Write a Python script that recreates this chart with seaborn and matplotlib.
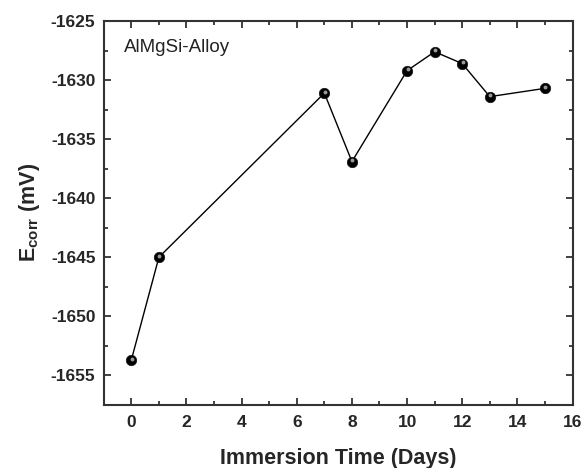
import matplotlib
matplotlib.use("Agg")
import matplotlib.pyplot as plt
import matplotlib.transforms as mtransforms
from matplotlib.ticker import MultipleLocator
import numpy as np
import pandas as pd
import seaborn as sns

# Corrosion potential of the AlMgSi alloy over immersion time
days = [0, 1, 7, 8, 10, 11, 12, 13, 15]
ecorr_mv = [-1653.7, -1645.0, -1631.1, -1636.9, -1629.2, -1627.6, -1628.6, -1631.4, -1630.7]

df = pd.DataFrame({"days": days, "ecorr": ecorr_mv})

sns.set_theme(style="ticks")
plt.rcParams["font.family"] = ["Liberation Sans", "DejaVu Sans"]
plt.rcParams["axes.unicode_minus"] = False
plt.rcParams["mathtext.fontset"] = "custom"
plt.rcParams["mathtext.rm"] = "Liberation Sans:bold"
plt.rcParams["mathtext.it"] = "Liberation Sans:bold"
plt.rcParams["mathtext.bf"] = "Liberation Sans:bold"

fig = plt.figure(figsize=(5.83, 4.68), dpi=100)
ax = fig.add_axes([0.178, 0.135, 0.804, 0.820])

sns.lineplot(data=df, x="days", y="ecorr", ax=ax, color="black", linewidth=1.0,
             marker="o", markersize=7.5, markerfacecolor="black",
             markeredgecolor="#111111", markeredgewidth=0.5, zorder=3)
# glossy highlight on each sphere
hl = mtransforms.offset_copy(ax.transData, fig=fig, x=0.4, y=1.0, units="points")
ax.plot(days, ecorr_mv, linestyle="none", marker="o", markersize=2.8,
        markerfacecolor="#9a9a9a", markeredgecolor="none", transform=hl, zorder=4)

ax.set_xlim(-1, 16)
ax.set_ylim(-1657.5, -1625)
ax.xaxis.set_major_locator(MultipleLocator(2))
ax.xaxis.set_minor_locator(MultipleLocator(1))
ax.yaxis.set_major_locator(MultipleLocator(5))
ax.yaxis.set_minor_locator(MultipleLocator(2.5))

for s in ax.spines.values():
    s.set_visible(True)
    s.set_linewidth(1.5)
    s.set_color("#333333")

ax.tick_params(which="both", direction="in", top=True, right=True,
               color="#333333", width=1.3)
ax.tick_params(which="major", length=5, labelsize=12.5)
ax.tick_params(axis="y", which="major", pad=6)
ax.tick_params(axis="x", which="major", pad=7)
ax.tick_params(which="minor", length=3)
for lbl in ax.get_xticklabels() + ax.get_yticklabels():
    lbl.set_fontweight("bold")

ax.set_xlabel("Immersion Time (Days)", fontsize=15.5, fontweight="bold", labelpad=13)
ax.set_ylabel(r"E$_{\mathrm{corr}}$ (mV)", fontsize=15.5, fontweight="bold", labelpad=6)

ax.text(0.043, 0.93, "AlMgSi-Alloy", transform=ax.transAxes, fontsize=13.5,
        ha="left", va="center", color="#222222")

fig.savefig("out.png", dpi=100, facecolor="white")
